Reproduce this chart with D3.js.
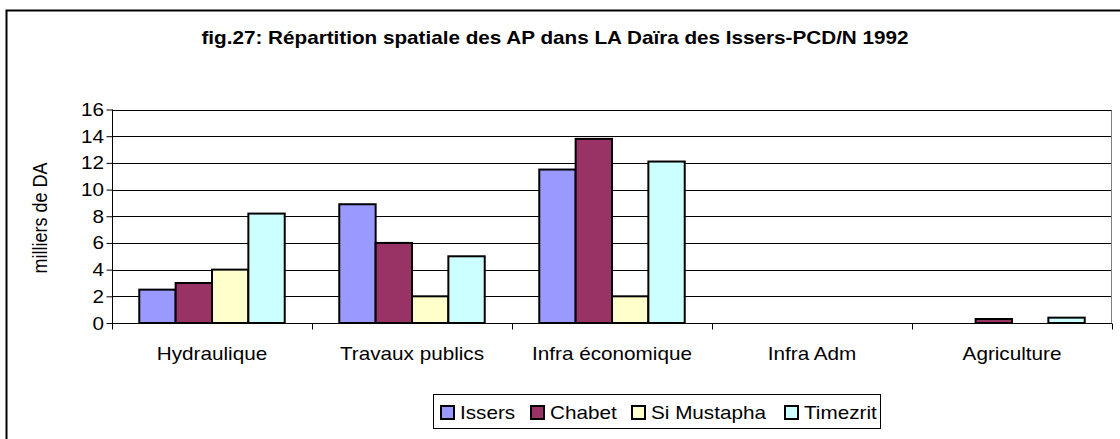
<!DOCTYPE html>
<html><head><meta charset="utf-8">
<script src="https://cdn.jsdelivr.net/npm/d3@7/dist/d3.min.js"></script>
<style>body{margin:0;background:#fff}svg{display:block}text{font-family:"Liberation Sans",Arial,sans-serif;fill:#000}</style>
</head><body><svg id="c" width="1120" height="439"></svg>
<script>
const categories = ["Hydraulique","Travaux publics","Infra économique","Infra Adm","Agriculture"];
const seriesNames = ["Issers","Chabet","Si Mustapha","Timezrit"];
const issers = [2.5, 8.9, 11.5, 0, 0];
const chabet = [3, 6, 13.8, 0, 0.3];
const siMustapha = [4, 2, 2, 0, 0];
const timezrit = [8.2, 5, 12.1, 0, 0.4];
const yTicks = [0,2,4,6,8,10,12,14,16];
const colors = ["#9999FF","#993366","#FFFFCC","#CCFFFF"];
const title = "fig.27: Répartition spatiale des AP dans LA Daïra des Issers-PCD/N 1992";
const yLabel = "milliers de DA";

const series = [issers, chabet, siMustapha, timezrit];
const svg = d3.select("#c");
const SX = 1.15, FS = 18;

svg.append("rect").attr("x",6.5).attr("y",10.5).attr("width",1130).attr("height",450)
  .attr("fill","#fff").attr("stroke","#000").attr("stroke-width",2);

const x = d3.scaleBand().domain(categories).range([112,1112]).paddingInner(0).paddingOuter(0);
const y = d3.scaleLinear().domain([0,16]).range([323,109.5]);
const xs = d3.scaleBand().domain(seriesNames).range([0,x.bandwidth()]).paddingInner(0).paddingOuter(0.75);

function stext(g, tx, ty, str, anchor, fs, bold){
  return g.append("text").attr("transform",`translate(${tx},${ty}) scale(${SX},1)`)
    .attr("text-anchor",anchor).style("font-size",fs+"px").style("font-weight",bold?"bold":"normal").text(str);
}

// gridlines
svg.append("g").selectAll("line").data(yTicks.slice(1)).join("line")
  .attr("x1",112).attr("x2",1112).attr("y1",d=>Math.round(y(d))+0.5).attr("y2",d=>Math.round(y(d))+0.5)
  .attr("stroke","#000").attr("stroke-width",1);
// plot area right border
svg.append("line").attr("x1",1111.5).attr("x2",1111.5).attr("y1",Math.round(y(16))+0.5).attr("y2",323)
  .attr("stroke","#808080");

// bars
const gBars = svg.append("g");
categories.forEach((c,i)=>{
  series.forEach((s,j)=>{
    const v = s[i];
    if(v<=0) return;
    gBars.append("rect").attr("x",x(c)+xs(seriesNames[j])).attr("width",xs.bandwidth())
      .attr("y",y(v)).attr("height",y(0)-y(v)).attr("fill",colors[j]).attr("stroke","#000").attr("stroke-width",2);
  });
});

// axes
const yAxis = d3.axisLeft(y).tickValues(yTicks).tickSize(6).tickFormat(d3.format("d"));
const gy = svg.append("g").attr("transform","translate(112.5,0)").call(yAxis);
gy.select(".domain").attr("stroke","#000").attr("d",`M0,${y(16)}V${y(0)}`);
gy.selectAll(".tick line").attr("stroke","#000");
gy.selectAll(".tick text").remove();
yTicks.forEach(t=>{ stext(svg, 104, y(t)+6.5, String(t), "end", FS, false); });

const gx = svg.append("g").attr("transform","translate(0,323.5)");
gx.append("line").attr("x1",112).attr("x2",1112).attr("stroke","#000");
const bounds = categories.map(c=>x(c)).concat([x.range()[1]]);
gx.selectAll("line.t").data(bounds).join("line").attr("class","t")
  .attr("x1",d=>Math.round(d)+0.5).attr("x2",d=>Math.round(d)+0.5).attr("y1",0).attr("y2",6).attr("stroke","#000");
categories.forEach(c=>{ stext(svg, x(c)+x.bandwidth()/2, 360, c, "middle", FS, false); });

// title
stext(svg, 555, 44, title, "middle", FS, true);

// y label
svg.append("text").attr("transform","translate(47,218) rotate(-90) scale(1,"+SX+")")
  .attr("text-anchor","middle").style("font-size",FS+"px").text(yLabel);

// legend
const lg = svg.append("g");
lg.append("rect").attr("x",433.5).attr("y",394.5).attr("width",447).attr("height",34)
  .attr("fill","#fff").attr("stroke","#000").attr("stroke-width",1);
const lx = [441,531,632,785];
seriesNames.forEach((n,j)=>{
  lg.append("rect").attr("x",lx[j]).attr("y",406).attr("width",13).attr("height",13)
    .attr("fill",colors[j]).attr("stroke","#000").attr("stroke-width",2);
  stext(lg, lx[j]+19, 419, n, "start", FS, false);
});
</script></body></html>
